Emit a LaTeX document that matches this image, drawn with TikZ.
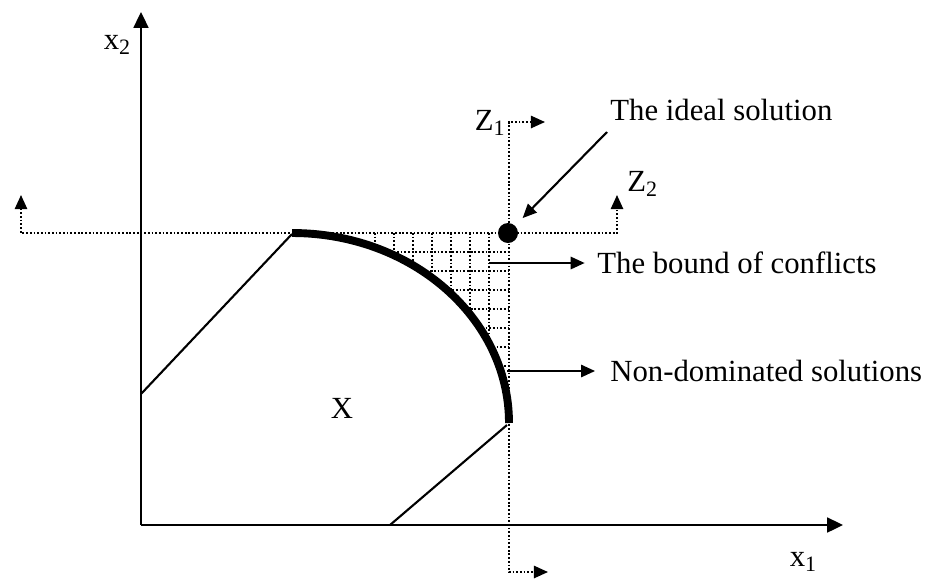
\documentclass[tikz,border=0pt]{standalone}
\usepackage{fontspec}
\setmainfont{Liberation Serif}
\usetikzlibrary{arrows.meta,positioning,calc}

\newcommand{\lowsub}[1]{\raisebox{-3pt}{\fontsize{12.5}{13}\selectfont #1}}

\begin{document}
\begin{tikzpicture}[x=0.02cm,y=-0.02cm,font=\fontsize{17.5}{20}\selectfont,
  >={Triangle[length=8pt,width=7pt]},
  axis/.style={line width=1.1pt,-{Triangle[length=9pt,width=8.5pt]}},
  dots/.style={line width=1pt,dash pattern=on 1pt off 1.1pt},
  edge/.style={line width=1.2pt},
  lbl/.style={inner sep=0pt,anchor=base west}]
\useasboundingbox (0,0) rectangle (943,579);
% axes
\coordinate (O) at (141,525);
\coordinate (x1end) at (843,525);
\coordinate (x2end) at (141,12);
\draw[axis] (O) -- (x1end);
\draw[axis] (O) -- (x2end);
\node[inner sep=0pt] (x1) at (803,562) {x\lowsub{1}};
\node[inner sep=0pt] (x2) at (117,45) {x\lowsub{2}};
% bounds Z1 and Z2
\coordinate (z2l) at (21,195);
\coordinate (z2r) at (617,195);
\coordinate (z1t) at (545,122);
\coordinate (z1b) at (548,572);
\draw[dots,<->] (z2l) -- (21,233) -- (617,233) -- (z2r);
\draw[dots,<->] (z1t) -- (509,122) -- (509,572) -- (z1b);
\node[inner sep=0pt,anchor=base east] (z1) at (505,130) {Z\lowsub{1}};
\node[inner sep=0pt,anchor=base west] (z2) at (627,191) {Z\lowsub{2}};
% region of conflicts
\begin{scope}
\clip (292,233) arc[start angle=-90,end angle=0,x radius=217,y radius=190]
  -- (509,233) -- cycle;
\foreach \gx in {375,394,...,490} \draw[dots] (\gx,233) -- (\gx,430);
\foreach \gy in {252,271,...,424} \draw[dots] (290,\gy) -- (509,\gy);
\end{scope}
% feasible set X
\draw[edge] (292,234) -- (141,394);
\draw[edge] (390,525) -- (507,425);
\draw[line width=4.5pt] (292,233) arc[start angle=-90,end angle=0,x radius=217,y radius=190];
\node (X) at (342,408) {X};
% ideal point
\node[circle,fill,inner sep=0pt,minimum size=0.4cm] (ideal) at (508,233) {};
% labels
\node[lbl] (idealtxt) at (610,120) {The ideal solution};
\node[lbl] (boundtxt) at (597,273) {The bound of conflicts};
\node[lbl] (nondomtxt) at (610,381) {Non-dominated solutions};
\coordinate (idealfrom) at (607,132);
\coordinate (boundfrom) at (489,263);
\coordinate (nondomfrom) at (507,371);
\draw[edge,->,shorten >=6pt] (idealfrom) -- (ideal);
\draw[edge,->,shorten >=7pt] (boundfrom) -- (boundfrom -| boundtxt.west);
\draw[edge,->,shorten >=8.5pt] (nondomfrom) -- (nondomfrom -| nondomtxt.west);
\end{tikzpicture}
\end{document}
